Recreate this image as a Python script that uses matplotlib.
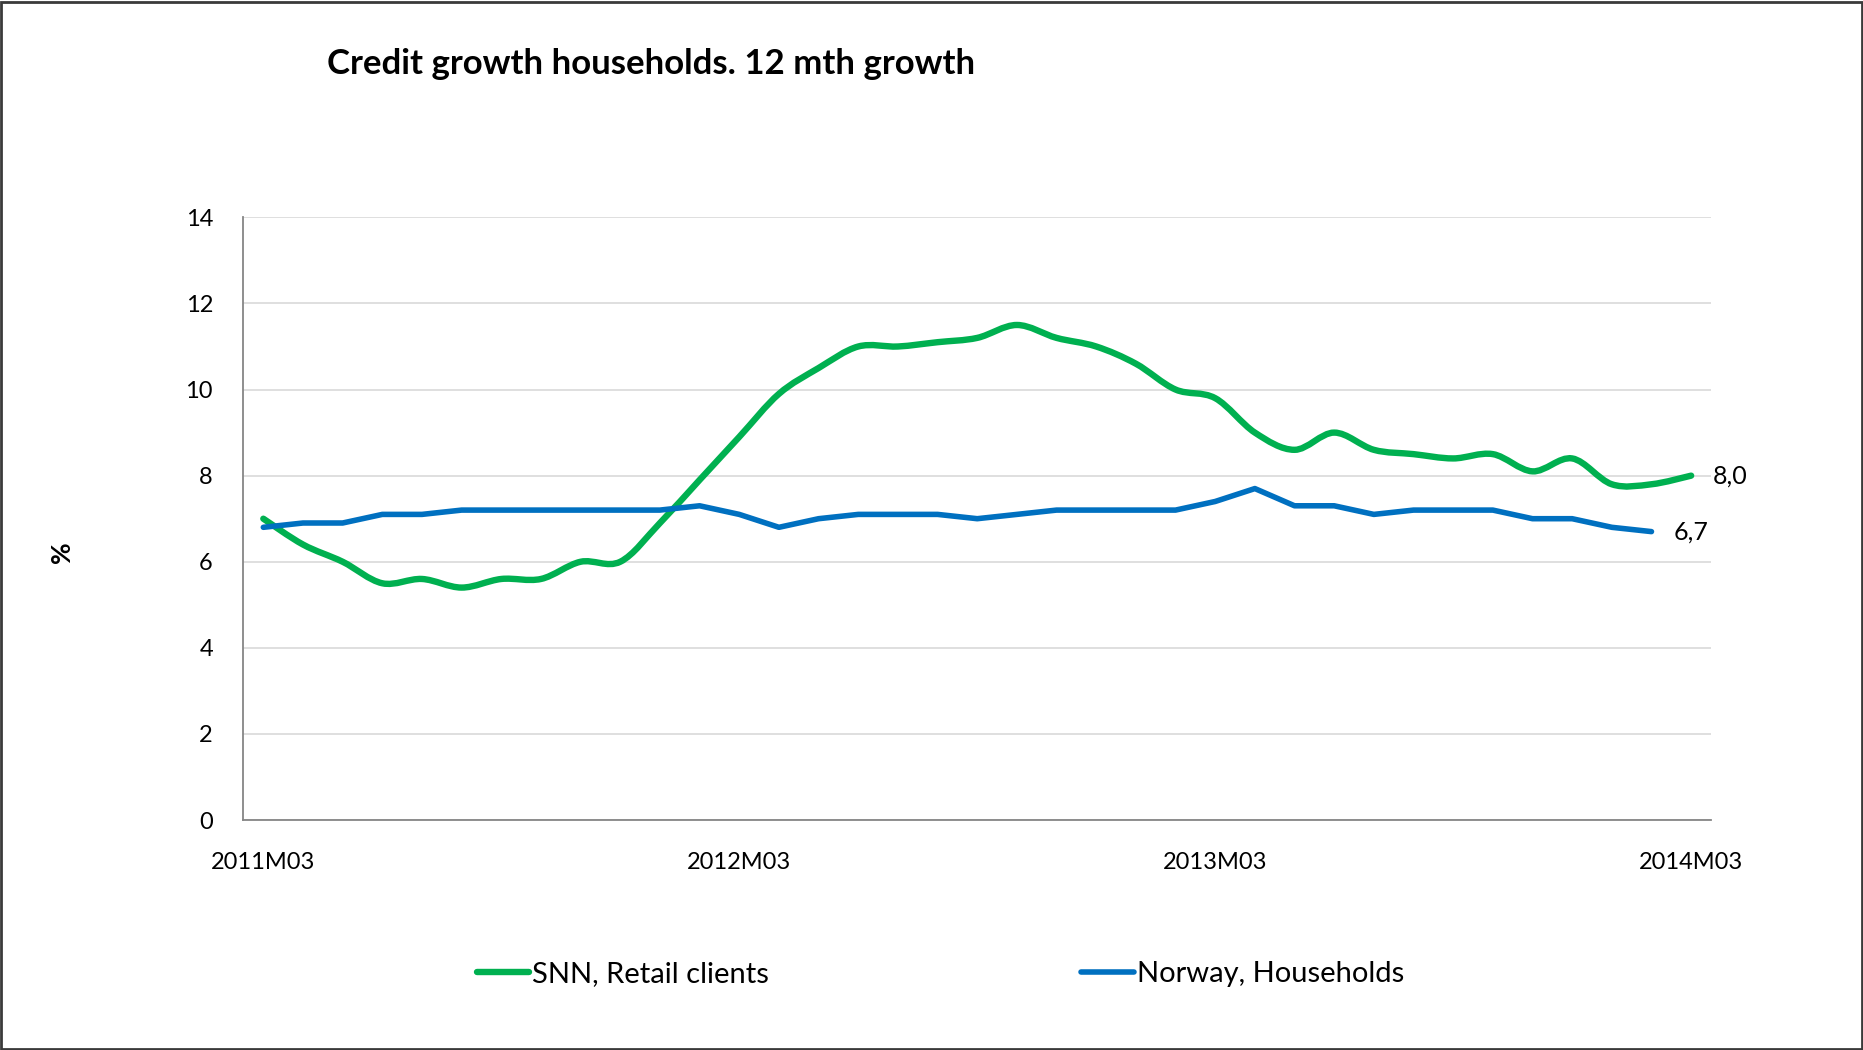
import numpy as np
import matplotlib
matplotlib.use("Agg")
import matplotlib.pyplot as plt
from matplotlib.path import Path
from matplotlib.patches import PathPatch, Rectangle
from matplotlib.lines import Line2D

plt.rcParams['font.family'] = ['Lato', 'DejaVu Sans']

# monthly 12 mth growth, 2011M03 .. 2014M03
snn_retail = [7.0, 6.4, 6.0, 5.5, 5.6, 5.4, 5.6, 5.6, 6.0, 6.0, 6.9, 7.9,
              8.9, 9.9, 10.5, 11.0, 11.0, 11.1, 11.2, 11.5, 11.2, 11.0, 10.6, 10.0,
              9.8, 9.0, 8.6, 9.0, 8.6, 8.5, 8.4, 8.5, 8.1, 8.4, 7.8, 7.8, 8.0]
# Norway households, last figure is 2014M02
norway_hh = [6.8, 6.9, 6.9, 7.1, 7.1, 7.2, 7.2, 7.2, 7.2, 7.2, 7.2, 7.3,
             7.1, 6.8, 7.0, 7.1, 7.1, 7.1, 7.0, 7.1, 7.2, 7.2, 7.2, 7.2,
             7.4, 7.7, 7.3, 7.3, 7.1, 7.2, 7.2, 7.2, 7.0, 7.0, 6.8, 6.7]
tick_labels = ["2011M03", "2012M03", "2013M03", "2014M03"]
tick_pos = [0, 12, 24, 36]

GREEN = "#00B050"
BLUE = "#0070C0"


def smooth_path(ys):
    # bezier segments through the points, like a spreadsheet "smoothed line"
    pts = np.column_stack([np.arange(len(ys)), ys]).astype(float)
    ext = np.vstack([pts[0], pts, pts[-1]])
    verts = [pts[0]]
    codes = [Path.MOVETO]
    for i in range(len(pts) - 1):
        p0, p1, p2, p3 = ext[i], ext[i + 1], ext[i + 2], ext[i + 3]
        verts += [p1 + (p2 - p0) / 6, p2 - (p3 - p1) / 6, p2]
        codes += [Path.CURVE4] * 3
    return Path(verts, codes)


fig = plt.figure(figsize=(18.63, 10.5), dpi=100)
ax = fig.add_axes([0.1307, 0.219, 0.7877, 0.574])

ax.add_patch(PathPatch(smooth_path(snn_retail), fill=False, edgecolor=GREEN,
                       lw=4.6, capstyle='round', joinstyle='round', zorder=3))
ax.plot(range(len(norway_hh)), norway_hh, color=BLUE, lw=4.0,
        solid_capstyle='round', solid_joinstyle='round', zorder=3)

# end labels
ax.annotate(f"{snn_retail[-1]:.1f}".replace(".", ","), (len(snn_retail) - 1, snn_retail[-1]),
            xytext=(22, 0), textcoords='offset pixels', va='center', ha='left', fontsize=18)
ax.annotate(f"{norway_hh[-1]:.1f}".replace(".", ","), (len(norway_hh) - 1, norway_hh[-1]),
            xytext=(22, 0), textcoords='offset pixels', va='center', ha='left', fontsize=18)

ax.set_xlim(-0.5, 36.5)
ax.set_ylim(0, 14)
ax.set_yticks(range(0, 15, 2))
ax.set_xticks(tick_pos)
ax.set_xticklabels(tick_labels)
ax.tick_params(axis='both', length=0, labelsize=17)
ax.tick_params(axis='y', pad=22)
ax.tick_params(axis='x', pad=23)
ax.grid(axis='y', color='#D9D9D9', lw=1.2)
ax.set_axisbelow(True)
for s in ['top', 'right']:
    ax.spines[s].set_visible(False)
for s in ['left', 'bottom']:
    ax.spines[s].set_color('#868686')
    ax.spines[s].set_linewidth(1.3)

fig.text(0.1755, 0.939, "Credit growth households. 12 mth growth",
         fontsize=25, fontweight='bold', ha='left', va='center')
fig.text(62 / 1863, 1 - 552 / 1050, "%", fontsize=19, fontweight='bold',
         rotation=90, ha='center', va='center')

handles = [Line2D([], [], color=GREEN, lw=4.6, solid_capstyle='round'),
           Line2D([], [], color=BLUE, lw=4.0, solid_capstyle='round')]
fig.legend(handles, ["SNN, Retail clients", "Norway, Households"], loc='center',
           bbox_to_anchor=(0.5047, 0.0724), ncol=2, frameon=False, fontsize=21,
           handlelength=1.8, handletextpad=0.1, columnspacing=10.7)

# chart border
fig.add_artist(Rectangle((0.0008, 0.001), 0.9985, 0.997, transform=fig.transFigure,
                         fill=False, edgecolor='#3a3a3a', lw=2))

fig.savefig("out.png", dpi=100)
